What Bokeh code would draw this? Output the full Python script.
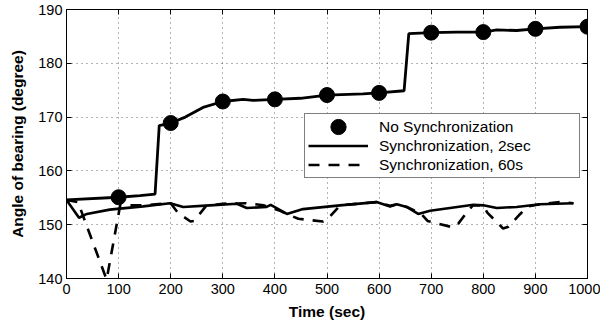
from bokeh.plotting import figure
from bokeh.models import Range1d, LinearAxis, FixedTicker, Legend, LegendItem
from bokeh.embed import file_html
from bokeh.resources import INLINE

# ---- data ----
x_ticks = [0, 100, 200, 300, 400, 500, 600, 700, 800, 900, 1000]
y_ticks = [140, 150, 160, 170, 180, 190]

nosync_t = [0, 100, 141, 170, 178, 200, 228, 262, 300, 339, 358, 400, 449, 500,
            569, 600, 648, 657, 700, 749, 800, 826, 864, 900, 947, 1000]
nosync_v = [154.6, 155.1, 155.4, 155.7, 168.4, 168.9, 170.0, 171.8, 172.9, 173.3, 173.1,
            173.3, 173.5, 174.1, 174.3, 174.5, 174.9, 185.5, 185.7, 185.8, 185.8, 186.2,
            186.1, 186.4, 186.7, 186.8]

marker_t = [100, 200, 300, 400, 500, 600, 700, 800, 900, 1000]
marker_v = [155.1, 168.9, 172.9, 173.3, 174.1, 174.5, 185.7, 185.8, 186.4, 186.8]

sync2_t = [0, 24, 39, 83, 147, 199, 224, 275, 327, 346, 384, 392, 423, 454, 525, 595,
           621, 634, 653, 675, 698, 781, 800, 826, 864, 909, 973]
sync2_v = [154.6, 151.3, 152.0, 152.8, 153.4, 154.0, 153.3, 153.6, 153.9, 153.1, 153.3,
           153.7, 152.0, 152.9, 153.6, 154.2, 153.4, 153.8, 153.3, 152.0, 152.6, 153.7,
           153.6, 153.1, 153.3, 153.8, 154.0]

sync60_t = [0, 22, 77, 103, 147, 200, 214, 238, 245, 268, 300, 345, 378, 410, 423, 445,
            492, 500, 525, 560, 595, 621, 634, 653, 680, 693, 742, 752, 770, 780, 800,
            808, 838, 848, 870, 885, 909, 947, 973]
sync60_v = [154.6, 154.2, 139.8, 153.6, 153.6, 154.0, 152.2, 150.6, 150.7, 153.5, 153.9,
            154.0, 153.6, 152.6, 152.0, 151.1, 150.6, 150.9, 153.6, 153.9, 154.2, 153.5,
            153.8, 153.3, 152.1, 150.7, 149.5, 150.2, 152.5, 153.6, 153.6, 152.2, 149.3,
            149.6, 151.9, 153.4, 153.8, 154.2, 154.0]

labels = ["No Synchronization", "Synchronization, 2sec", "Synchronization, 60s"]

FONT = "Liberation Sans"

p = figure(width=600, height=322, output_backend="svg", toolbar_location=None,
           x_range=Range1d(0, 1000), y_range=Range1d(140, 190),
           min_border_left=66, min_border_right=13, min_border_top=9, min_border_bottom=44,
           background_fill_color="white", border_fill_color="white")

p.outline_line_color = "black"
p.outline_line_width = 1

def style_axis(ax, ticks, show_labels=True):
    ax.ticker = FixedTicker(ticks=ticks)
    ax.major_tick_in = 5
    ax.major_tick_out = 0
    ax.minor_tick_in = 0
    ax.minor_tick_out = 0
    ax.axis_line_color = "black"
    ax.major_tick_line_color = "black"
    ax.major_label_text_font = FONT
    ax.major_label_text_color = "black"
    if show_labels:
        ax.major_label_text_font_size = "14.5px"
    else:
        ax.major_label_overrides = {t: "" for t in ticks}
        ax.major_label_text_font_size = "1px"
        ax.major_label_standoff = 0

xa = p.xaxis[0]
ya = p.yaxis[0]
style_axis(xa, x_ticks)
style_axis(ya, y_ticks)
xa.major_label_standoff = 5
ya.major_label_standoff = 4
xa.axis_label = "Time (sec)"
ya.axis_label = "Angle of bearing (degree)"
for ax in (xa, ya):
    ax.axis_label_text_font = FONT
    ax.axis_label_text_font_style = "bold"
    ax.axis_label_text_font_size = "15.5px"
    ax.axis_label_text_color = "black"
xa.axis_label_standoff = 6
ya.axis_label_standoff = 9

top = LinearAxis()
style_axis(top, x_ticks, show_labels=False)
p.add_layout(top, "above")
right = LinearAxis()
style_axis(right, y_ticks, show_labels=False)
p.add_layout(right, "right")

for g, t in ((p.xgrid[0], x_ticks), (p.ygrid[0], y_ticks)):
    g.ticker = FixedTicker(ticks=t)
    g.grid_line_color = "black"
    g.grid_line_alpha = 0.6
    g.grid_line_dash = "1 4"
    g.grid_line_width = 1

r60 = p.line(sync60_t, sync60_v, line_color="black", line_width=2.6, line_dash="11 9")
r2 = p.line(sync2_t, sync2_v, line_color="black", line_width=2.6)
p.line(nosync_t, nosync_v, line_color="black", line_width=2.8)
rm = p.ellipse(marker_t, marker_v, width=15, height=15, width_units="screen",
               height_units="screen", fill_color="black", line_color="black")

legend = Legend(items=[LegendItem(label=labels[0], renderers=[rm]),
                       LegendItem(label=labels[1], renderers=[r2]),
                       LegendItem(label=labels[2], renderers=[r60])],
                location=(238, 100), glyph_width=60, glyph_height=19, label_height=19,
                spacing=0, padding=3, margin=0, label_standoff=11, label_width=197,
                label_text_font=FONT, label_text_font_size="15.5px",
                label_text_color="black",
                border_line_color="black", border_line_width=1,
                background_fill_color="white", background_fill_alpha=1.0)
p.add_layout(legend)

open("out.html", "w").write(file_html(p, INLINE))
